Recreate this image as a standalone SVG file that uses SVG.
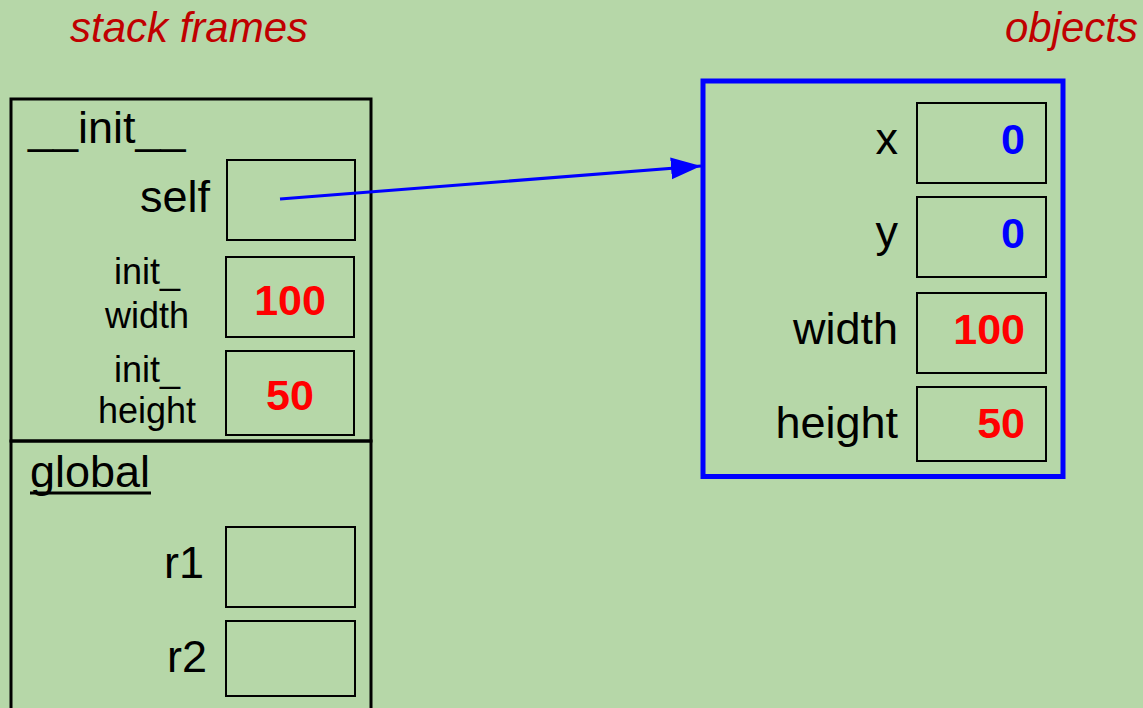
<svg xmlns="http://www.w3.org/2000/svg" width="1143" height="708" viewBox="0 0 1143 708">
  <style>
    text { font-family: "Liberation Sans", Arial, sans-serif; fill: #000; }
    .title { font-size: 42px; font-style: italic; fill: #c00000; }
    .frame { fill: none; stroke: #000; stroke-width: 3; }
    .cell { fill: none; stroke: #000; stroke-width: 2; }
    .name { font-size: 45px; }
    .lbl { font-size: 45px; text-anchor: end; }
    .small { font-size: 36px; text-anchor: middle; }
    .num { font-size: 43px; font-weight: bold; }
    .red { fill: #ff0000; }
    .blue { fill: #0000ff; }
  </style>
  <defs>
    <marker id="arrow" markerUnits="userSpaceOnUse" markerWidth="32" markerHeight="24" refX="30" refY="12" orient="auto">
      <path d="M0,1 L30,12 L0,23 Z" fill="#0000ff"/>
    </marker>
  </defs>

  <rect width="1143" height="708" fill="#b6d7a8"/>

  <text class="title" x="70" y="42">stack frames</text>
  <text class="title" x="1138" y="42" text-anchor="end">objects</text>

  <!-- __init__ frame -->
  <g id="frame-init">
    <rect class="frame" x="11" y="99" width="360" height="342"/>
    <text class="name" x="28" y="143">__init__</text>
    <text class="lbl" x="210" y="212">self</text>
    <rect class="cell" x="227" y="160" width="128" height="80"/>
    <text class="small" x="147" y="284">init_</text>
    <text class="small" x="147" y="328">width</text>
    <rect class="cell" x="226" y="257" width="128" height="80"/>
    <text class="num red" x="290" y="315" text-anchor="middle">100</text>
    <text class="small" x="147" y="382">init_</text>
    <text class="small" x="147" y="423">height</text>
    <rect class="cell" x="226" y="351" width="128" height="84"/>
    <text class="num red" x="290" y="410" text-anchor="middle">50</text>
  </g>

  <!-- global frame -->
  <g id="frame-global">
    <rect class="frame" x="11" y="441" width="360" height="290"/>
    <text class="name" x="30" y="487">global</text>
    <line x1="30" y1="493" x2="151" y2="493" stroke="#000" stroke-width="3"/>
    <text class="lbl" x="204" y="578">r1</text>
    <rect class="cell" x="226" y="527" width="129" height="80"/>
    <text class="lbl" x="207" y="672">r2</text>
    <rect class="cell" x="226" y="621" width="129" height="75"/>
  </g>

  <!-- Rectangle object -->
  <g id="object-rect">
    <rect x="703" y="81" width="360" height="395.5" fill="none" stroke="#0000ff" stroke-width="5"/>
    <text class="lbl" x="898" y="154">x</text>
    <rect class="cell" x="917" y="103" width="129" height="80"/>
    <text class="num blue" x="1025" y="154" text-anchor="end">0</text>
    <text class="lbl" x="898" y="247">y</text>
    <rect class="cell" x="917" y="197" width="129" height="80"/>
    <text class="num blue" x="1025" y="248" text-anchor="end">0</text>
    <text class="lbl" x="898" y="344">width</text>
    <rect class="cell" x="917" y="293" width="129" height="80"/>
    <text class="num red" x="1025" y="344" text-anchor="end">100</text>
    <text class="lbl" x="898" y="438">height</text>
    <rect class="cell" x="917" y="387" width="129" height="74"/>
    <text class="num red" x="1025" y="438" text-anchor="end">50</text>
  </g>

  <!-- references -->
  <g id="connectors">
    <line x1="280" y1="199" x2="701" y2="166" stroke="#0000ff" stroke-width="3" marker-end="url(#arrow)"/>
  </g>
</svg>
